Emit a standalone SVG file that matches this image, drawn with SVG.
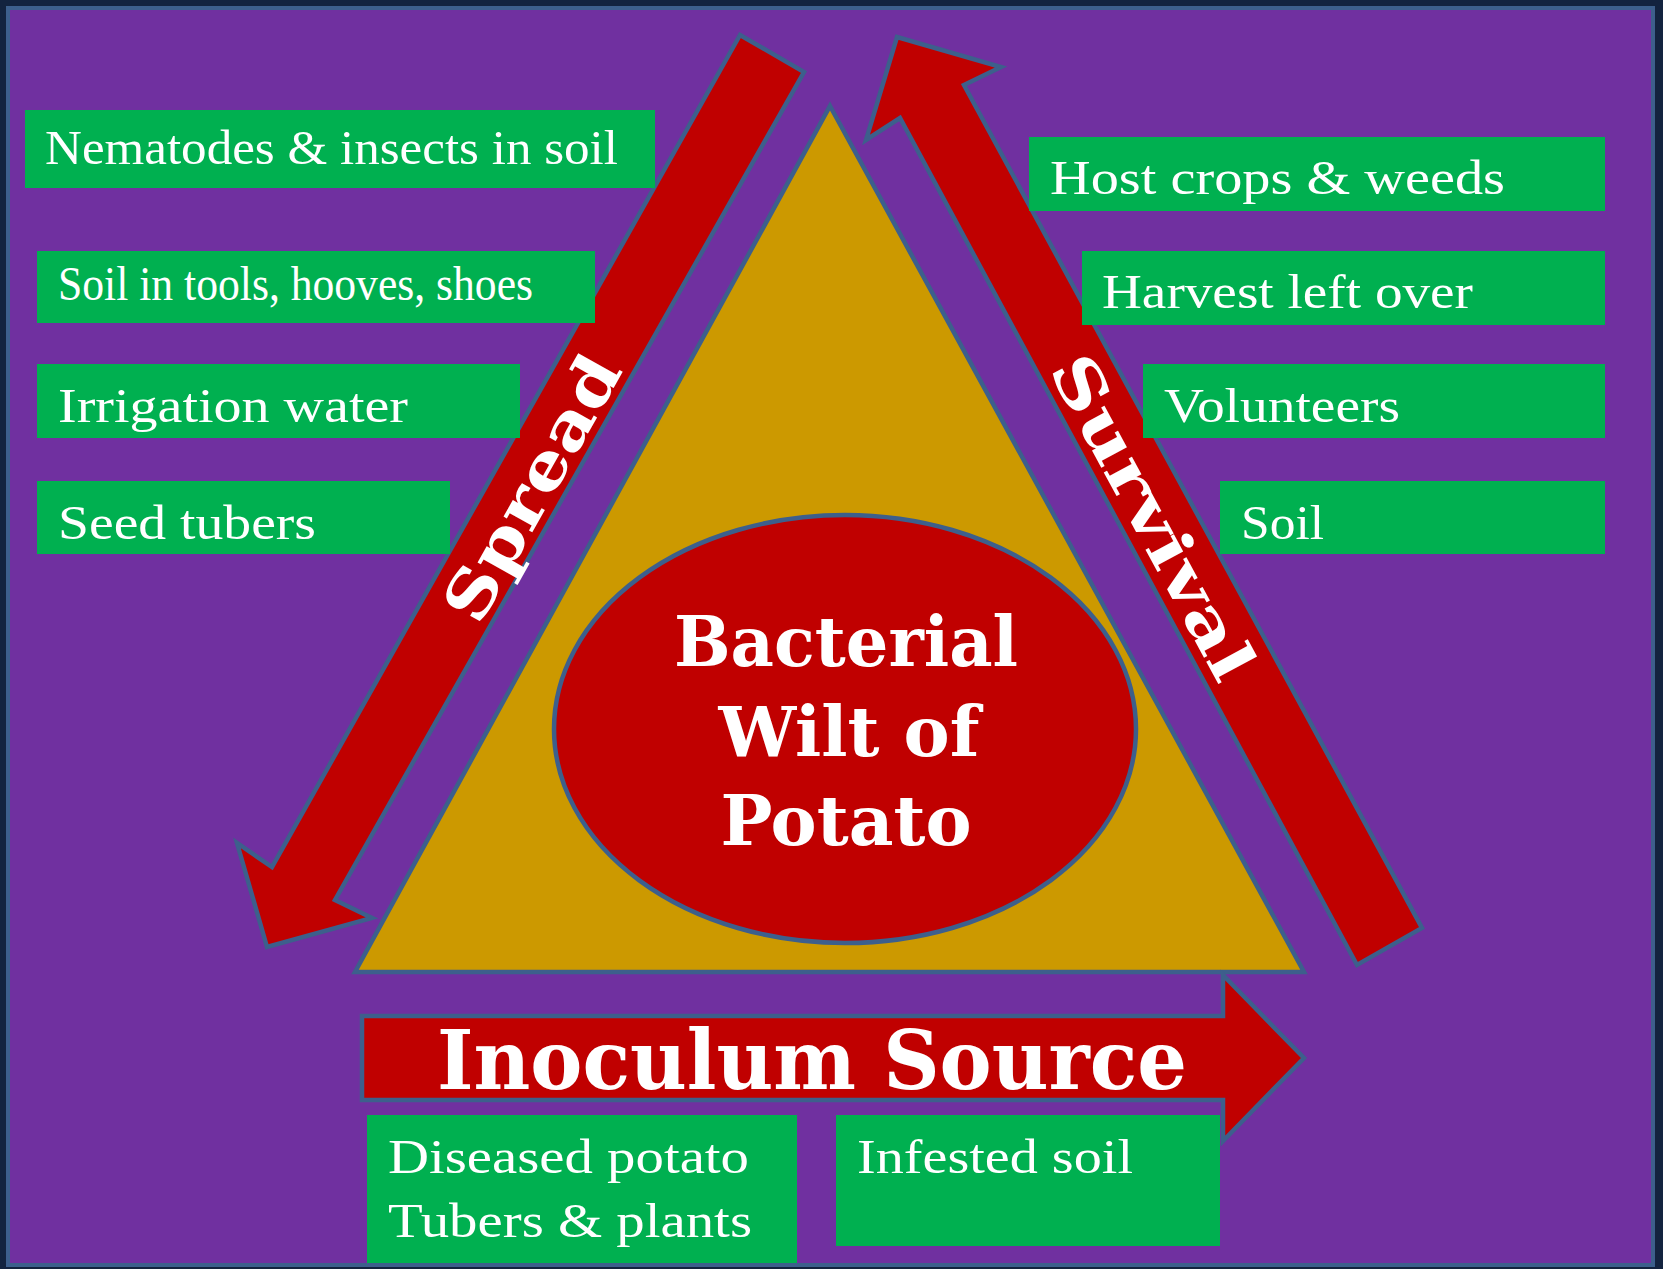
<svg xmlns="http://www.w3.org/2000/svg" width="1663" height="1269" viewBox="0 0 1663 1269">
<style>
.shape{stroke:#3D5F8C;stroke-width:4.5;stroke-linejoin:miter}
.red{fill:#C00000}
.box{fill:#00B050}
.lbl{font-family:"Liberation Serif","Times New Roman",serif;fill:#FFFFFF;font-size:48px}
.slab{font-family:"DejaVu Serif",serif;font-weight:bold;fill:#FFFFFF}
</style>
<rect x="0" y="0" width="1663" height="1269" fill="#13233F"/>
<rect id="background" x="8" y="8" width="1645" height="1257" fill="#7030A0" stroke="#3D5F8C" stroke-width="4"/>
<g id="connectors">
  <g id="spread-arrow">
    <polygon class="shape red" points="740,35 804,72 335,900 372,918 267,947 237,843 272,867"/>
    <text class="slab" font-size="63" text-anchor="middle" dy="22" textLength="295" lengthAdjust="spacingAndGlyphs" transform="translate(532,488) rotate(-60.6)">Spread</text>
  </g>
  <g id="survival-arrow">
    <polygon class="shape red" points="897,37 1001,67 964,85 1422,928 1357,965 900,118 866,140"/>
    <text class="slab" font-size="62" text-anchor="middle" dy="22" textLength="360" lengthAdjust="spacingAndGlyphs" transform="translate(1153,517) rotate(61.6)">Survival</text>
  </g>
</g>
<g id="triangle">
  <polygon class="shape" fill="#CC9900" points="830,106 1304,972 355,972"/>
</g>
<g id="center">
  <ellipse class="shape red" cx="845" cy="729" rx="291" ry="214"/>
  <text class="slab" font-size="70" text-anchor="middle" x="846" y="666" textLength="344" lengthAdjust="spacingAndGlyphs">Bacterial</text>
  <text class="slab" font-size="70" text-anchor="middle" x="849" y="756" textLength="261" lengthAdjust="spacingAndGlyphs">Wilt of</text>
  <text class="slab" font-size="70" text-anchor="middle" x="846" y="845" textLength="251" lengthAdjust="spacingAndGlyphs">Potato</text>
</g>
<g id="inoculum-source">
  <polygon class="shape red" points="362,1016 1223,1016 1223,975 1304,1058 1223,1141 1223,1100 362,1100"/>
  <text class="slab" font-size="82" x="437" y="1089" textLength="750" lengthAdjust="spacingAndGlyphs">Inoculum Source</text>
</g>
<g id="nematodes">
  <rect class="box" x="25" y="110" width="630" height="78"/>
  <text class="lbl" x="45" y="164" font-size="46" textLength="573" lengthAdjust="spacingAndGlyphs">Nematodes &amp; insects in soil</text>
</g>
<g id="soil-tools">
  <rect class="box" x="37" y="251" width="558" height="72"/>
  <text class="lbl" x="58" y="300" font-size="41" textLength="475" lengthAdjust="spacingAndGlyphs">Soil in tools, hooves, shoes</text>
</g>
<g id="irrigation">
  <rect class="box" x="37" y="364" width="483" height="74"/>
  <text class="lbl" x="58" y="422" font-size="50" textLength="350" lengthAdjust="spacingAndGlyphs">Irrigation water</text>
</g>
<g id="seed-tubers">
  <rect class="box" x="37" y="481" width="413" height="73"/>
  <text class="lbl" x="58" y="539" font-size="50" textLength="258" lengthAdjust="spacingAndGlyphs">Seed tubers</text>
</g>
<g id="host-crops">
  <rect class="box" x="1029" y="137" width="576" height="74"/>
  <text class="lbl" x="1050" y="194" font-size="48" textLength="455" lengthAdjust="spacingAndGlyphs">Host crops &amp; weeds</text>
</g>
<g id="harvest">
  <rect class="box" x="1082" y="251" width="523" height="74"/>
  <text class="lbl" x="1102" y="308" font-size="48" textLength="371" lengthAdjust="spacingAndGlyphs">Harvest left over</text>
</g>
<g id="volunteers">
  <rect class="box" x="1143" y="364" width="462" height="74"/>
  <text class="lbl" x="1164" y="422" font-size="50" textLength="236" lengthAdjust="spacingAndGlyphs">Volunteers</text>
</g>
<g id="soil">
  <rect class="box" x="1220" y="481" width="385" height="73"/>
  <text class="lbl" x="1241" y="539" font-size="50" textLength="83" lengthAdjust="spacingAndGlyphs">Soil</text>
</g>
<g id="diseased-potato">
  <rect class="box" x="367" y="1115" width="430" height="148"/>
  <text class="lbl" x="388" y="1173" font-size="50" textLength="361" lengthAdjust="spacingAndGlyphs">Diseased potato</text>
  <text class="lbl" x="388" y="1237" font-size="50" textLength="364" lengthAdjust="spacingAndGlyphs">Tubers &amp; plants</text>
</g>
<g id="infested-soil">
  <rect class="box" x="836" y="1115" width="384" height="131"/>
  <text class="lbl" x="857" y="1173" font-size="50" textLength="276" lengthAdjust="spacingAndGlyphs">Infested soil</text>
</g>
</svg>
